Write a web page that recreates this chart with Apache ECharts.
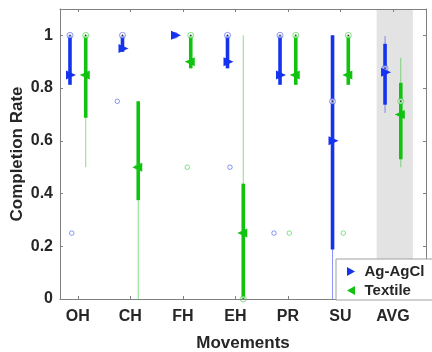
<!DOCTYPE html>
<html>
<head>
<meta charset="utf-8">
<script src="https://cdn.jsdelivr.net/npm/echarts@6/dist/echarts.min.js"></script>
<style>
  html, body { margin: 0; padding: 0; background: #fff; }
  #chart { width: 432px; height: 352px; }
</style>
</head>
<body>
<div id="chart"></div>
<script>
const categories = ["OH", "CH", "FH", "EH", "PR", "SU", "AVG"];
const yTicks = [0, 0.2, 0.4, 0.6, 0.8, 1];

// Ag-AgCl
const agWhiskerLow = [0.8125, 0.9375, 1, 0.875, 0.8125, 0, 0.706];
const agQ1 = [0.8125, 0.9375, 1, 0.875, 0.8125, 0.1875, 0.737];
const agMedian = [1, 1, 1, 1, 1, 0.75, 0.875];
const agQ3 = [1, 1, 1, 1, 1, 1, 0.968];
const agWhiskerHigh = [1, 1, 1, 1, 1, 1, 0.997];
const agMean = [0.85, 0.95, 1, 0.9, 0.85, 0.6, 0.86];
const agOutlierCat = ["OH", "CH", "EH", "PR"];
const agOutlierVal = [0.25, 0.75, 0.5, 0.25];

// Textile
const txWhiskerLow = [0.5, 0, 0.875, 0, 0.8125, 0.8125, 0.5];
const txQ1 = [0.6875, 0.375, 0.875, 0, 0.8125, 0.8125, 0.53];
const txMedian = [1, 0.5, 1, 0, 1, 1, 0.75];
const txQ3 = [1, 0.75, 1, 0.4375, 1, 1, 0.82];
const txWhiskerHigh = [1, 0.75, 1, 1, 1, 1, 0.915];
const txMean = [0.85, 0.5, 0.9, 0.25, 0.85, 0.85, 0.7];
const txOutlierCat = ["FH", "PR", "SU"];
const txOutlierVal = [0.5, 0.25, 0.25];

// placement / style
const agOffset = -0.15;
const txOffset = 0.15;
const agJitter = [0.033, -0.099, 0.047, -0.115]; // boxplot jitter of the outliers
const txJitter = [-0.066, -0.123, -0.095];
const blue = "#1533ee";
const blueLight = "rgba(21,51,238,0.5)";
const green = "#0fc30f";
const greenLight = "rgba(15,195,15,0.5)";
const axisColor = "#808080";
const textColor = "#262626";
const font = "'Liberation Sans', Arial, sans-serif";

const chart = echarts.init(document.getElementById("chart"));

function boxSeries(name, color, light, offset, lo, q1, med, q3, hi) {
  return {
    name: name,
    type: "custom",
    z: 2,
    silent: true,
    encode: { x: 0, y: [1, 2, 3, 4, 5] },
    data: categories.map((c, i) => [i + 1 + offset, lo[i], q1[i], med[i], q3[i], hi[i]]),
    renderItem: function (params, api) {
      const x = api.value(0);
      const pLo = api.coord([x, api.value(1)]);
      const pQ1 = api.coord([x, api.value(2)]);
      const pMed = api.coord([x, api.value(3)]);
      const pQ3 = api.coord([x, api.value(4)]);
      const pHi = api.coord([x, api.value(5)]);
      return {
        type: "group",
        children: [
          {
            type: "line",
            shape: { x1: pLo[0], y1: pLo[1], x2: pHi[0], y2: pHi[1] },
            style: { stroke: light, lineWidth: 1 },
          },
          {
            type: "line",
            shape: { x1: pQ1[0], y1: pQ1[1], x2: pQ3[0], y2: pQ3[1] },
            style: { stroke: color, lineWidth: 3.6 },
          },
          {
            type: "circle",
            shape: { cx: pMed[0], cy: pMed[1], r: 3 },
            style: { fill: "rgba(255,255,255,0.55)", stroke: light, lineWidth: 1 },
          },
          {
            type: "circle",
            shape: { cx: pMed[0], cy: pMed[1], r: 0.8 },
            style: { fill: "#222" },
          },
        ],
      };
    },
  };
}

function meanSeries(name, color, offset, mean, path, shift) {
  return {
    name: name,
    type: "scatter",
    z: 4,
    silent: true,
    symbol: path,
    symbolSize: [10, 9],
    symbolOffset: [shift, 0],
    itemStyle: { color: color, opacity: 1 },
    data: mean.map((v, i) => [i + 1 + offset, v]),
  };
}

function outlierSeries(name, light, offset, cats, vals, jitter) {
  return {
    name: name,
    type: "scatter",
    z: 3,
    silent: true,
    symbol: "circle",
    symbolSize: 4.5,
    itemStyle: { color: "rgba(0,0,0,0)", borderColor: light, borderWidth: 1, opacity: 1 },
    data: cats.map((c, i) => [categories.indexOf(c) + 1 + offset + jitter[i], vals[i]]),
  };
}

const option = {
  animation: false,
  backgroundColor: "#fff",
  textStyle: { fontFamily: font },
  grid: { left: 60, right: 6, top: 9, bottom: 53, containLabel: false, outerBoundsMode: "none" },
  legend: {
    orient: "vertical",
    left: 336,
    top: 259,
    padding: [5, 30, 2, 11],
    itemWidth: 17,
    itemHeight: 9,
    itemGap: 4,
    backgroundColor: "#fff",
    borderColor: "#a0a0a0",
    borderWidth: 1,
    borderRadius: 0,
    selectedMode: false,
    textStyle: { fontFamily: font, fontSize: 15, fontWeight: "bold", color: textColor, lineHeight: 15 },
    data: [
      { name: "Ag-AgCl", icon: "path://M0,0L8,4.5L0,9Z", itemStyle: { color: blue } },
      { name: "Textile", icon: "path://M8,0L0,4.5L8,9Z", itemStyle: { color: green } },
    ],
  },
  xAxis: [
    {
      type: "value",
      position: "bottom",
      min: 0.66,
      max: 7.63,
      z: 3,
      name: "Movements",
      nameLocation: "middle",
      nameGap: 36,
      nameTextStyle: { fontFamily: font, fontSize: 17, fontWeight: "bold", color: textColor },
      axisLine: { show: true, lineStyle: { color: axisColor } },
      axisTick: { show: true, inside: true, length: 3, customValues: [1, 2, 3, 4, 5, 6, 7], lineStyle: { color: axisColor } },
      axisLabel: {
        customValues: [1, 2, 3, 4, 5, 6, 7],
        formatter: (v) => categories[Math.round(v) - 1],
        fontFamily: font,
        fontSize: 16,
        fontWeight: "bold",
        color: textColor,
        margin: 10,
      },
      splitLine: { show: false },
    },
    {
      type: "value",
      position: "top",
      min: 0.66,
      max: 7.63,
      z: 3,
      axisLine: { show: true, onZero: false, lineStyle: { color: axisColor } },
      axisTick: { show: true, inside: true, length: 3, customValues: [1, 2, 3, 4, 5, 6, 7], lineStyle: { color: axisColor } },
      axisLabel: { show: false },
      splitLine: { show: false },
    },
  ],
  yAxis: [
    {
      type: "value",
      position: "left",
      min: 0,
      max: 1.1,
      z: 3,
      name: "Completion Rate",
      nameLocation: "middle",
      nameRotate: 90,
      nameGap: 34,
      nameMoveOverlap: false,
      nameTextStyle: { fontFamily: font, fontSize: 17, fontWeight: "bold", color: textColor },
      axisLine: { show: true, lineStyle: { color: axisColor } },
      axisTick: { show: true, inside: true, length: 3, customValues: yTicks, lineStyle: { color: axisColor } },
      axisLabel: {
        customValues: yTicks,
        fontFamily: font,
        fontSize: 16,
        fontWeight: "bold",
        color: textColor,
        margin: 7,
      },
      splitLine: { show: false },
    },
    {
      type: "value",
      position: "right",
      min: 0,
      max: 1.1,
      z: 3,
      axisLine: { show: true, onZero: false, lineStyle: { color: axisColor } },
      axisTick: { show: true, inside: true, length: 3, customValues: yTicks, lineStyle: { color: axisColor } },
      axisLabel: { show: false },
      splitLine: { show: false },
    },
  ],
  series: [
    {
      type: "scatter",
      z: 1,
      silent: true,
      data: [],
      markArea: {
        silent: true,
        itemStyle: { color: "#e3e3e3" },
        data: [[{ xAxis: 6.69 }, { xAxis: 7.38 }]],
      },
    },
    boxSeries("Ag-AgCl", blue, blueLight, agOffset, agWhiskerLow, agQ1, agMedian, agQ3, agWhiskerHigh),
    boxSeries("Textile", green, greenLight, txOffset, txWhiskerLow, txQ1, txMedian, txQ3, txWhiskerHigh),
    outlierSeries("Ag-AgCl", blueLight, agOffset, agOutlierCat, agOutlierVal, agJitter),
    outlierSeries("Textile", greenLight, txOffset, txOutlierCat, txOutlierVal, txJitter),
    meanSeries("Ag-AgCl", blue, agOffset, agMean, "path://M0,0L10,4.5L0,9Z", 1),
    meanSeries("Textile", green, txOffset, txMean, "path://M10,0L0,4.5L10,9Z", -1),
  ],
};

chart.setOption(option);
</script>
</body>
</html>
